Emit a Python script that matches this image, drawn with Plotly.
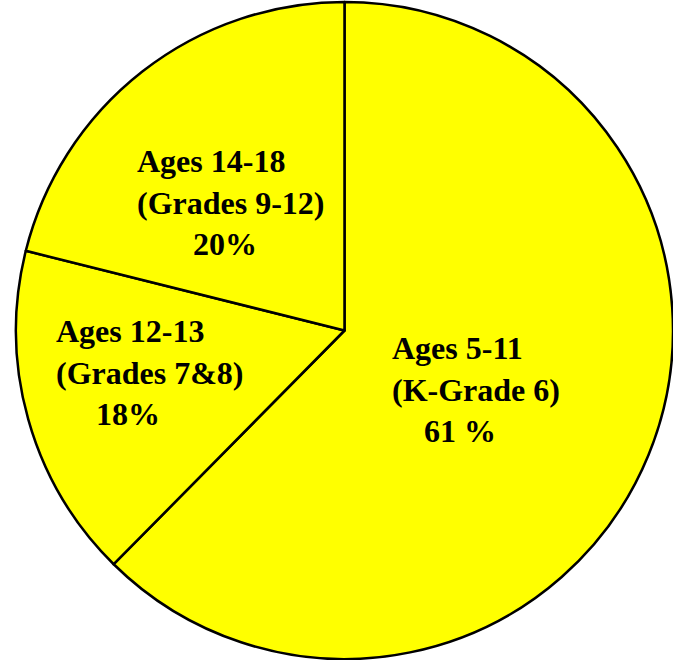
import plotly.graph_objects as go

categories = ["Ages 5-11 (K-Grade 6)", "Ages 12-13 (Grades 7&8)", "Ages 14-18 (Grades 9-12)"]
values = [62.4, 16.5, 21.1]
# Labels printed on the chart
label_lines = [
    ["Ages 5-11", "(K-Grade 6)", "\u00a0\u00a0\u00a0\u00a061 %"],
    ["Ages 12-13", "(Grades 7&8)", "\u00a0\u00a0\u00a0\u00a0\u00a018%"],
    ["Ages 14-18", "(Grades 9-12)", "\u00a0\u00a0\u00a0\u00a0\u00a0\u00a0\u00a020%"],
]
label_pos = [(0.569, 0.410), (0.058, 0.436), (0.181, 0.695)]

fig = go.Figure(go.Pie(
    labels=categories,
    values=values,
    sort=False,
    direction="clockwise",
    rotation=0,
    marker=dict(colors=["#FFFF00"] * 3, line=dict(color="black", width=2.5)),
    textinfo="none",
    hoverinfo="skip",
    showlegend=False,
))

for lines, (x, y) in zip(label_lines, label_pos):
    fig.add_annotation(
        x=x, y=y, xref="paper", yref="paper",
        xanchor="left", yanchor="middle", align="left",
        text="<br>".join(lines), showarrow=False,
        font=dict(family="Liberation Serif", size=32, color="black", weight="bold"),
    )

fig.update_layout(
    width=673, height=660,
    margin=dict(l=16, r=0, t=2, b=1),
    paper_bgcolor="white", plot_bgcolor="white",
)

fig.write_html("out.html", config={"displayModeBar": False},
               post_script="document.body.style.margin='0';")
